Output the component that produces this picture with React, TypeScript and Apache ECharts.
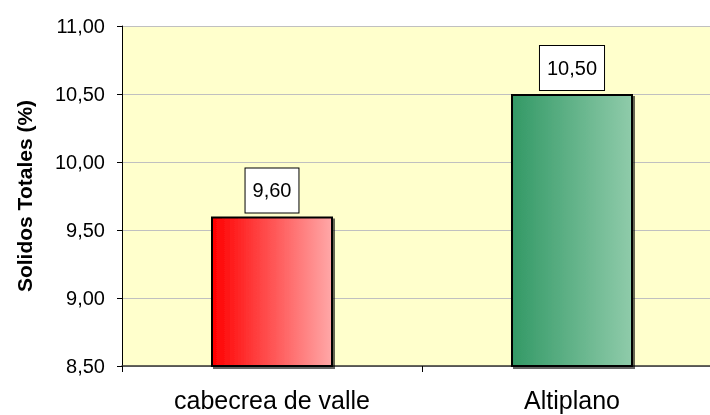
import React, { useEffect, useRef } from "react";
import * as echarts from "echarts";

const categories = ["cabecrea de valle", "Altiplano"];
const values = [9.6, 10.5];
const yTicks = { min: 8.5, max: 11, interval: 0.5 };
const barColors = [
  ["#FF0000", "#FFA8A8"],
  ["#339966", "#8FCBAA"],
];

const fmt = (v: number) => v.toFixed(2).replace(".", ",");

export default function App() {
  const ref = useRef<HTMLDivElement>(null);
  useEffect(() => {
    if (!ref.current) return;
    const chart = echarts.init(ref.current, undefined, { renderer: "svg" });
    chart.setOption({
      animation: false,
      textStyle: { fontFamily: "Liberation Sans, Arial, sans-serif" },
      grid: {
        left: 122,
        top: 26,
        right: 0,
        bottom: 49,
        backgroundColor: "#FFFFCC",
        show: true,
        borderWidth: 0,
        containLabel: false,
        outerBoundsMode: "none",
      },
      xAxis: {
        type: "category",
        data: categories,
        axisLine: { lineStyle: { color: "#333", width: 1.5 } },
        axisTick: { show: true, alignWithLabel: false, length: 6, lineStyle: { color: "#000" } },
        axisLabel: { fontSize: 25, color: "#000", margin: 21 },
      },
      yAxis: {
        type: "value",
        min: yTicks.min,
        max: yTicks.max,
        interval: yTicks.interval,
        name: "Solidos Totales (%)",
        nameLocation: "middle",
        nameGap: 87,
        nameTextStyle: { fontSize: 21, fontWeight: "bold", color: "#000" },
        axisLine: { show: true, lineStyle: { color: "#000", width: 1 } },
        axisTick: { show: true, length: 5, lineStyle: { color: "#000" } },
        axisLabel: { fontSize: 20, color: "#000", margin: 17, formatter: (v: number) => fmt(v) },
        splitLine: { show: true, lineStyle: { color: "#C0C0C0", width: 1 } },
      },
      series: [
        {
          type: "bar",
          barWidth: 122,
          data: values.map((v, i) => ({
            value: v,
            itemStyle: {
              color: new echarts.graphic.LinearGradient(0, 0, 1, 0, [
                { offset: 0, color: barColors[i][0] },
                { offset: 1, color: barColors[i][1] },
              ]),
              borderColor: "#000",
              borderWidth: 2,
              shadowColor: "rgba(0,0,0,0.6)",
              shadowOffsetX: 2,
              shadowOffsetY: 2,
              shadowBlur: 0,
            },
          })),
          label: {
            show: true,
            position: "top",
            distance: 4,
            formatter: (p: any) => fmt(p.value),
            fontSize: 20,
            color: "#000",
            backgroundColor: "#fff",
            borderColor: "#000",
            borderWidth: 1,
            padding: [12, 7, 12, 7],
          },
        },
      ],
    });
    return () => chart.dispose();
  }, []);
  return (
    <div style={{ position: "fixed", left: 0, top: 0, width: 710, height: 415, overflow: "hidden" }}>
      <div ref={ref} style={{ width: 722, height: 415 }} />
    </div>
  );
}
